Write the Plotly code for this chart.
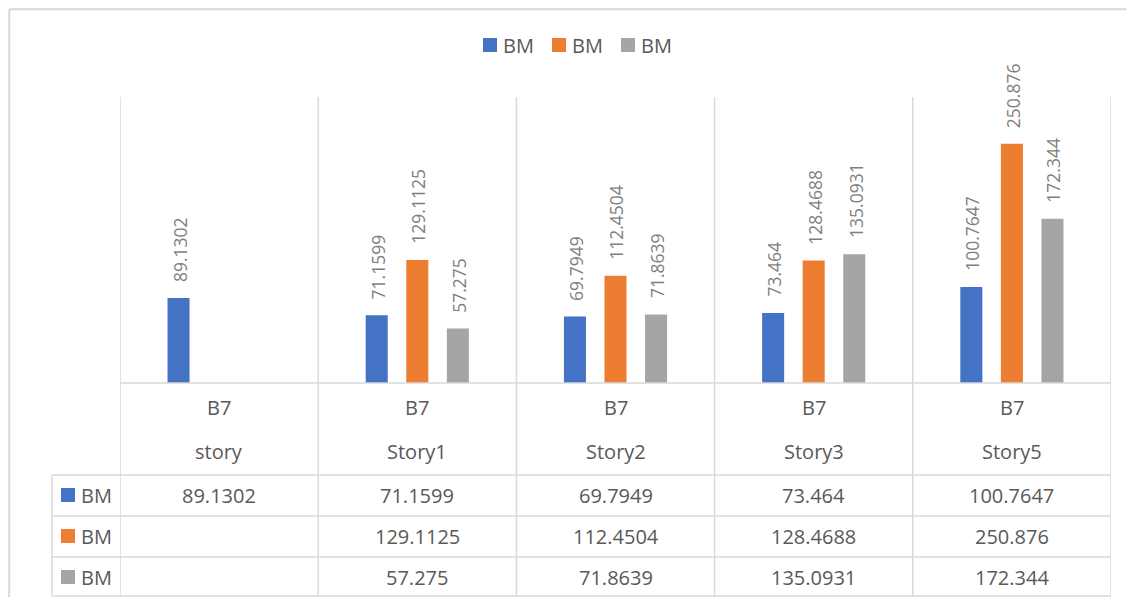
import plotly.graph_objects as go

# ---- data ----
categories = ["story", "Story1", "Story2", "Story3", "Story5"]
group_label = "B7"
series_names = ["BM", "BM", "BM"]
series_blue = [89.1302, 71.1599, 69.7949, 73.464, 100.7647]
series_orange = [None, 129.1125, 112.4504, 128.4688, 250.876]
series_gray = [None, 57.275, 71.8639, 135.0931, 172.344]

colors = ["#4472C4", "#ED7D31", "#A5A5A5"]
all_series = [series_blue, series_orange, series_gray]

# page has default 8px body margin -> figure origin at (8, 8); keep it inside the viewport
OFF = 8
W, H = 1134 - 2 * OFF, 605 - 2 * OFF
FONT = "Open Sans"
TXT = "#595959"
LBL = "#7f7f7f"
GRID = "#d9d9d9"


def px(x):
    return (x - OFF) / W


def py(y):
    return 1 - (y - OFF) / H


fig = go.Figure()
for name, vals, col in zip(series_names, all_series, colors):
    fig.add_trace(go.Bar(x=categories, y=vals, name=name, marker=dict(color=col, line=dict(width=0)),
                         hoverinfo="y", showlegend=False))

# plot area geometry (page pixels)
x_left, x_right = 120, 1111
y_axis, y_top = 383, 97
table_bottom = 596
cat_w = (x_right - x_left) / len(categories)
bargap = 0.386
slot = (1 - bargap) / 3 * cat_w

shapes = []
annotations = []

# outer chart border: only top and left edges are visible in the frame
bx, by = 1.2 / W, 1 - 1.2 / H
shapes.append(dict(type="line", xref="paper", yref="paper", x0=bx, x1=1, y0=by, y1=by,
                   line=dict(color=GRID, width=2), layer="below"))
shapes.append(dict(type="line", xref="paper", yref="paper", x0=bx, x1=bx, y0=by, y1=0,
                   line=dict(color=GRID, width=2), layer="below"))

# vertical category separators (plot + table)
for i in range(len(categories) + 1):
    shapes.append(dict(type="line", xref="x", yref="paper", x0=i - 0.5, x1=i - 0.5,
                       y0=py(y_top), y1=py(table_bottom), line=dict(color=GRID, width=1.5)))
# table left edge
shapes.append(dict(type="line", xref="paper", yref="paper", x0=px(52), x1=px(52),
                   y0=py(475), y1=py(table_bottom), line=dict(color=GRID, width=1.5)))
# horizontal lines
shapes.append(dict(type="line", xref="paper", yref="paper", x0=px(x_left), x1=px(x_right),
                   y0=py(y_axis), y1=py(y_axis), line=dict(color=GRID, width=1.5)))
for yy in [475, 516, 557, table_bottom]:
    shapes.append(dict(type="line", xref="paper", yref="paper", x0=px(52), x1=px(x_right),
                       y0=py(yy), y1=py(yy), line=dict(color=GRID, width=1.5)))

# legend (manual, to match spacing)
legend_sq_x = [483, 552, 621]
for name, col, lx in zip(series_names, colors, legend_sq_x):
    shapes.append(dict(type="rect", xref="paper", yref="paper", x0=px(lx), x1=px(lx + 14),
                       y0=py(52), y1=py(38), fillcolor=col, line=dict(width=0)))
    annotations.append(dict(x=px(lx + 18), y=py(45), xref="paper", yref="paper", text=name,
                            showarrow=False, xanchor="left", yanchor="middle",
                            font=dict(family=FONT, size=20, color=TXT)))

# data labels above bars
offsets = [-slot, 0, slot]
for j, vals in enumerate(all_series):
    for c, v in zip(categories, vals):
        if v is None:
            continue
        annotations.append(dict(x=c, y=v, xref="x", yref="y", text=str(v), showarrow=False,
                                textangle=-90, xanchor="center", yanchor="bottom",
                                xshift=offsets[j] + 1, yshift=14,
                                font=dict(family=FONT, size=17.5, color=LBL)))

# category labels (two levels)
for c in categories:
    annotations.append(dict(x=c, y=py(407), xref="x", yref="paper", text=group_label, showarrow=False,
                            yanchor="middle", font=dict(family=FONT, size=20, color=TXT)))
    annotations.append(dict(x=c, y=py(451), xref="x", yref="paper", text=c, showarrow=False,
                            yanchor="middle", font=dict(family=FONT, size=20, color=TXT)))

# data table rows
row_centers = [495, 536, 577]
for j, (name, vals, col) in enumerate(zip(series_names, all_series, colors)):
    yc = row_centers[j]
    shapes.append(dict(type="rect", xref="paper", yref="paper", x0=px(61), x1=px(75),
                       y0=py(yc + 7), y1=py(yc - 7), fillcolor=col, line=dict(width=0)))
    annotations.append(dict(x=px(79), y=py(yc), xref="paper", yref="paper", text=name, showarrow=False,
                            xanchor="left", yanchor="middle", font=dict(family=FONT, size=20, color=TXT)))
    for c, v in zip(categories, vals):
        if v is None:
            continue
        annotations.append(dict(x=c, y=py(yc), xref="x", yref="paper", text=str(v), showarrow=False,
                                yanchor="middle", font=dict(family=FONT, size=20, color=TXT)))

fig.update_layout(
    width=W, height=H,
    margin=dict(l=0, r=0, t=0, b=0),
    paper_bgcolor="white", plot_bgcolor="white",
    barmode="group", bargap=bargap, bargroupgap=0.457,
    font=dict(family=FONT, color=TXT),
    showlegend=False,
    xaxis=dict(domain=[px(x_left), px(x_right)], range=[-0.5, len(categories) - 0.5],
               showticklabels=False, showgrid=False, zeroline=False, showline=False, ticks=""),
    yaxis=dict(domain=[py(y_axis), py(y_top)], range=[0, 300],
               showticklabels=False, showgrid=False, zeroline=False, showline=False, ticks=""),
    shapes=shapes,
    annotations=annotations,
)

fig.write_html("out.html")
